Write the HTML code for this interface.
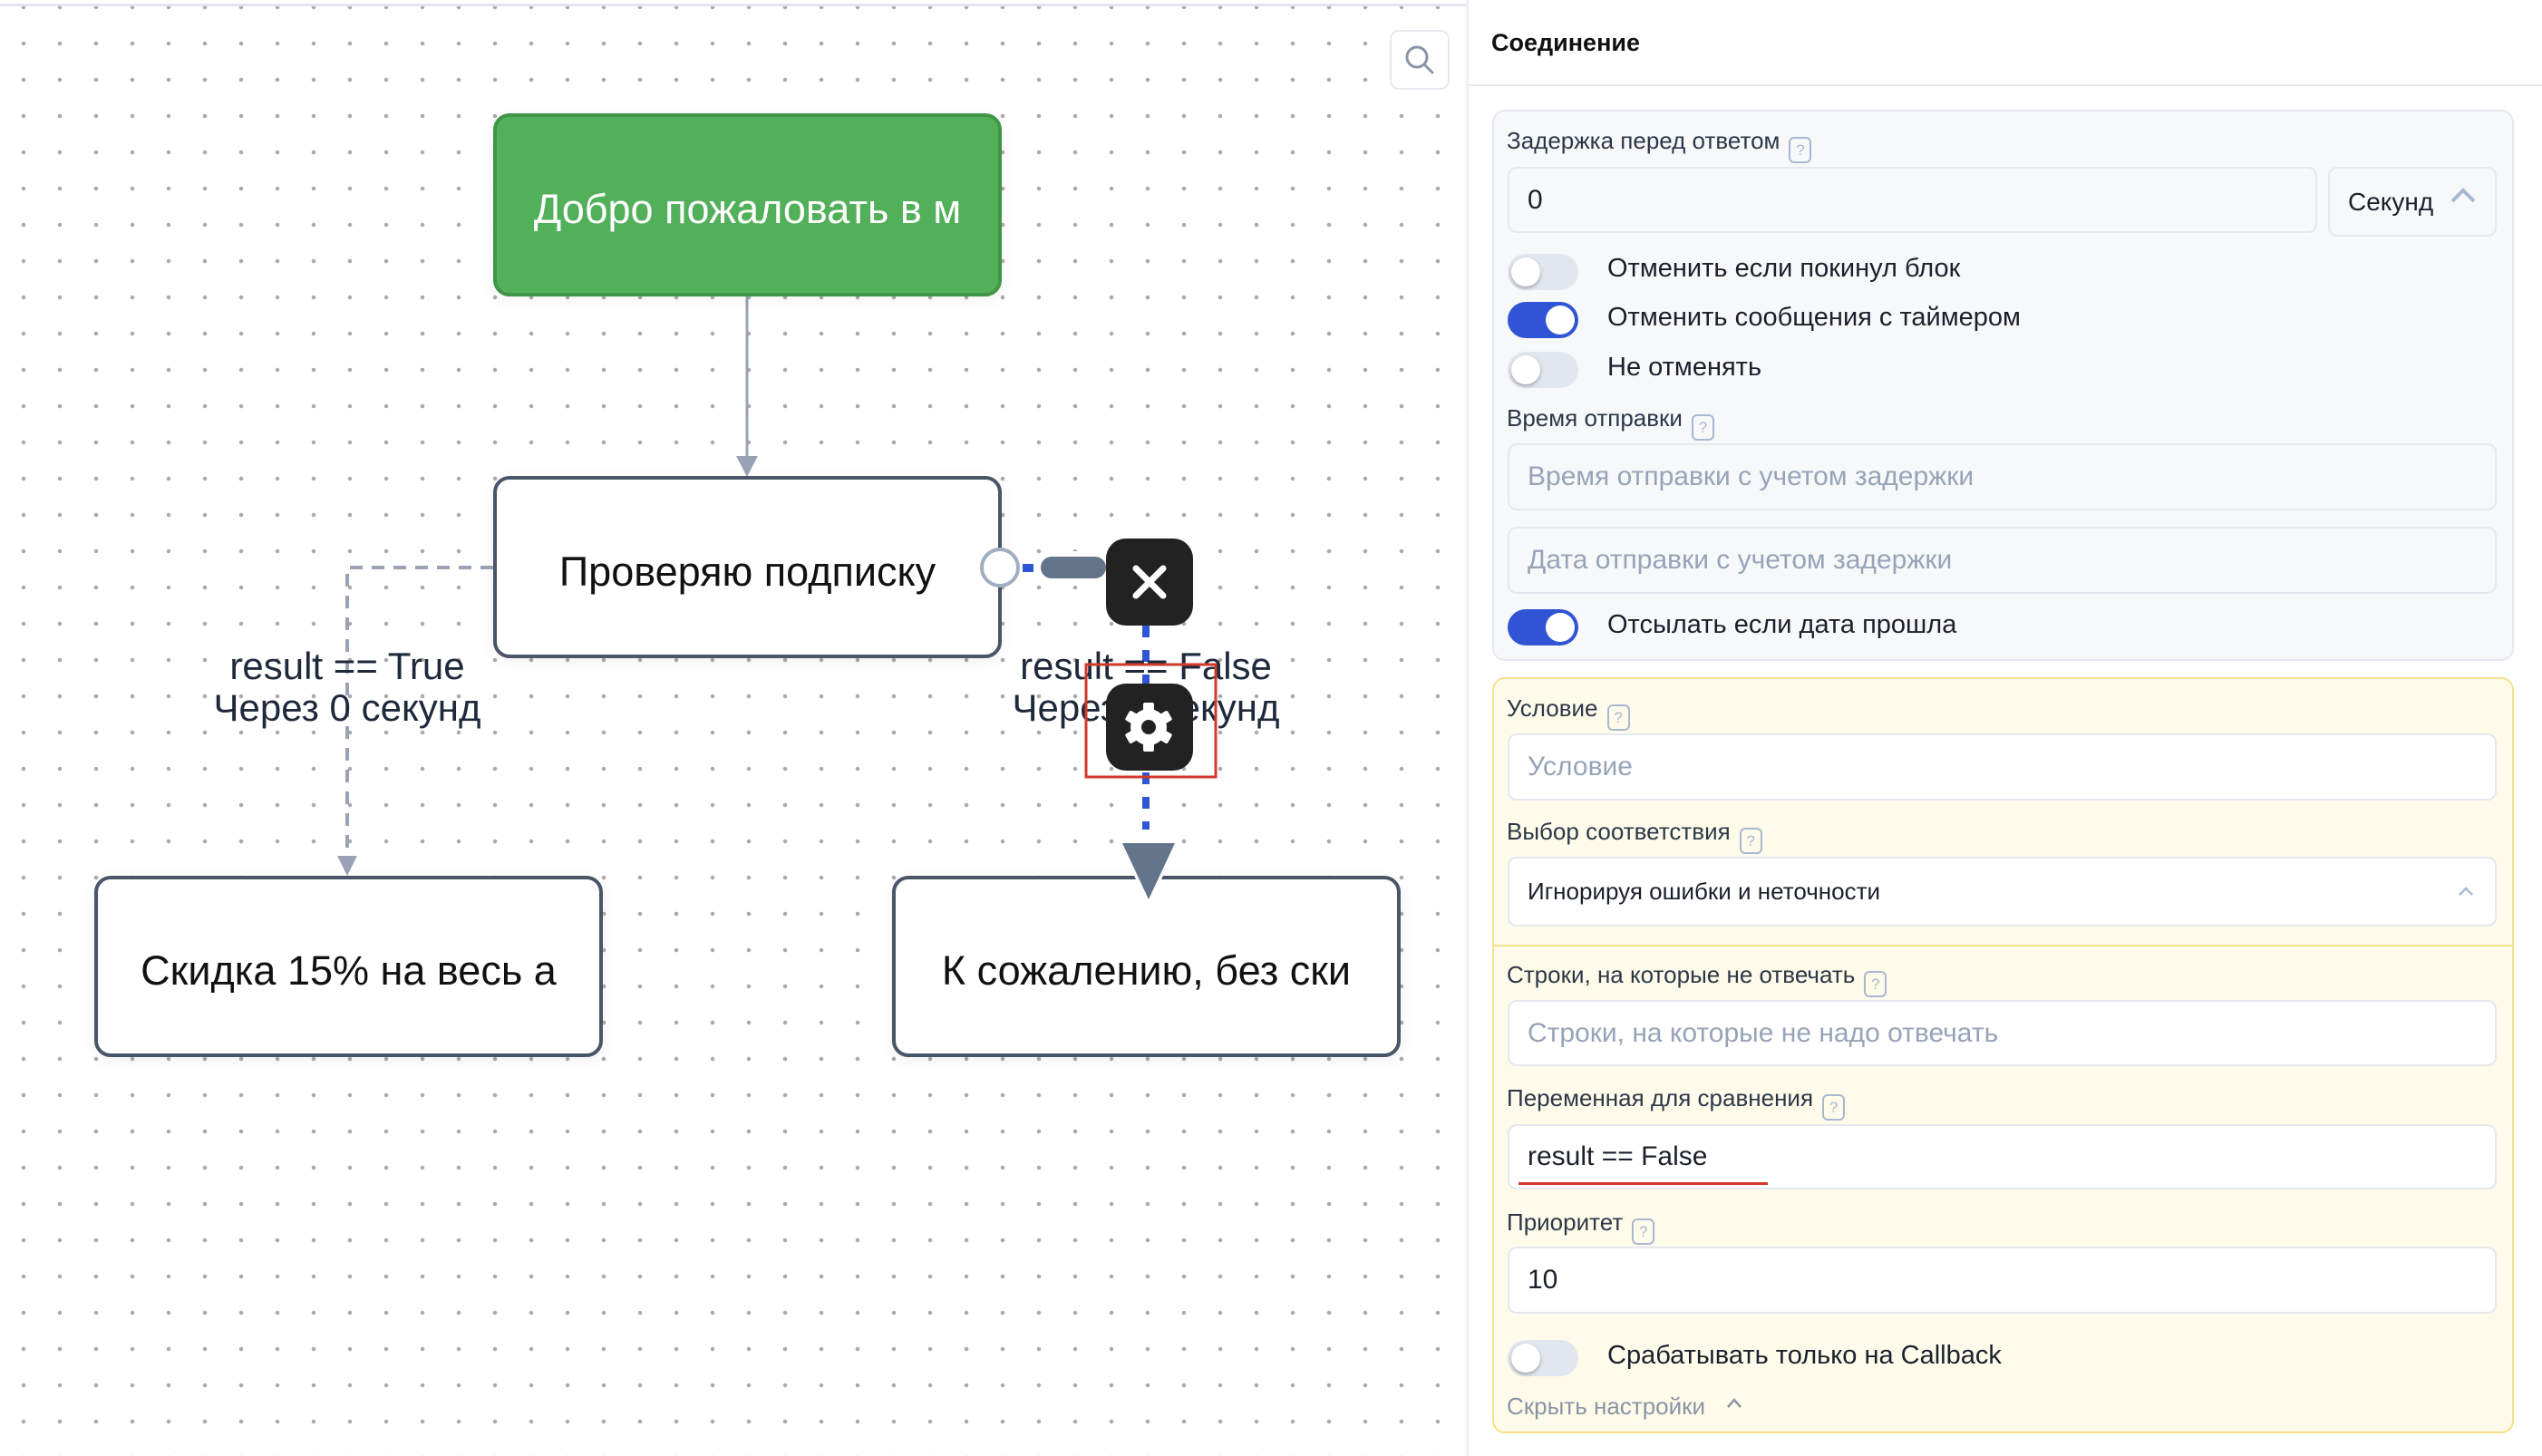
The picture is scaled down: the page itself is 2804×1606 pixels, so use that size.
<!DOCTYPE html>
<html><head><meta charset="utf-8"><style>
*{box-sizing:border-box;margin:0;padding:0}
body{width:2804px;height:1606px;position:relative;overflow:hidden;background:#fff;font-family:"Liberation Sans","DejaVu Sans",sans-serif;color:#1a202c}
.abs{position:absolute}
#canvas{left:0;top:0;width:1617px;height:1606px;background-color:#fff;background-image:radial-gradient(circle,#aaa 0,#aaa 2px,transparent 2.5px);background-size:40px 40px;background-position:6px -12px}
.node{position:absolute;border:4px solid #4a5568;border-radius:18px;background:#fff;display:flex;align-items:center;justify-content:center;font-size:45px;color:#111;white-space:nowrap;overflow:hidden;box-shadow:0 4px 18px rgba(0,0,0,.06);padding-top:10px}
.lbl{position:absolute;font-size:42px;color:#1e293b;text-align:center;line-height:46px;white-space:nowrap}
.panel{left:1617px;top:0;width:1187px;height:1606px;background:#fff;border-left:3px solid #eef0f4}
.card{position:absolute;left:1646px;width:1127px;border-radius:14px}
.label{position:absolute;left:1662px;font-size:26px;color:#2d3748;white-space:nowrap}
.q{display:inline-block;width:25px;height:29px;border:2px solid #a9b8d0;border-radius:6px;font-size:17px;color:#a9b8d0;text-align:center;line-height:25px;vertical-align:-7px;margin-left:10px}
.inp{position:absolute;left:1663px;width:1091px;border:2px solid #e5e8ef;border-radius:10px;background:#f7f8fa;font-size:30px;display:flex;align-items:center;padding-left:20px;color:#1a202c}
.ph{color:#98a3b8}
.tg{position:absolute;left:1663px;width:78px;height:40px;border-radius:20px;background:#e2e6ee}
.tg::after{content:"";position:absolute;left:4px;top:4px;width:32px;height:32px;border-radius:50%;background:#fff;box-shadow:0 2px 4px rgba(0,0,0,.3)}
.tg.on{background:#2f55d4}
.tg.on::after{left:42px;box-shadow:none}
.tt{position:absolute;left:1773px;font-size:29px;color:#1a202c;white-space:nowrap}
</style></head><body>
<div id="canvas" class="abs"></div>
<div class="abs" style="left:0;top:4px;width:1617px;height:3px;background:#e3e6ef"></div>

<div class="abs" style="left:1533px;top:33px;width:66px;height:66px;border:2px solid #e6e9ef;border-radius:10px;background:#fff"></div>
<svg class="abs" style="left:1548px;top:48px" width="36" height="36"><circle cx="15" cy="15" r="11" fill="none" stroke="#8a94a6" stroke-width="3"/><line x1="23" y1="23" x2="32" y2="32" stroke="#8a94a6" stroke-width="3" stroke-linecap="round"/></svg>

<svg class="abs" style="left:0;top:0" width="1617" height="1606">
<line x1="824" y1="327" x2="824" y2="508" stroke="#9aa3b5" stroke-width="3"/>
<polygon points="812,503 836,503 824,526" fill="#9aa3b5"/>
<polyline points="544,626 383,626 383,946" fill="none" stroke="#9aa3b5" stroke-width="4" stroke-dasharray="14,10"/>
<polygon points="372,944 394,944 383,966" fill="#9aa3b5"/>
<line x1="1264" y1="690" x2="1264" y2="915" stroke="#2f55d4" stroke-width="8" stroke-dasharray="13,14"/>
</svg>

<div class="node" style="left:544px;top:125px;width:561px;height:202px;background:#52b05a;border:4px solid #3f9646;color:#fff">Добро пожаловать в м</div>
<div class="node" style="left:544px;top:525px;width:561px;height:201px">Проверяю подписку</div>
<div class="node" style="left:104px;top:966px;width:561px;height:200px">Скидка 15% на весь а</div>
<div class="node" style="left:984px;top:966px;width:561px;height:200px">К сожалению, без ски</div>

<div class="lbl" style="left:183px;top:712px;width:400px">result == True<br>Через 0 секунд</div>
<div class="lbl" style="left:1064px;top:712px;width:400px">result == False<br>Через 0 секунд</div>

<svg class="abs" style="left:1080px;top:560px" width="300" height="450">
<circle cx="23" cy="66" r="20" fill="#fff" stroke="#a0aec0" stroke-width="4"/>
<rect x="48" y="62" width="12" height="9" fill="#2f55d4"/>
<rect x="62" y="48" width="84" height="38" rx="19" fill="#fff"/>
<rect x="68" y="54" width="72" height="24" rx="12" fill="#64748b"/>
<rect x="140" y="34" width="96" height="96" rx="22" fill="#222"/>
<line x1="173" y1="67" x2="203" y2="97" stroke="#fff" stroke-width="7" stroke-linecap="round"/>
<line x1="203" y1="67" x2="173" y2="97" stroke="#fff" stroke-width="7" stroke-linecap="round"/>
<rect x="140" y="194" width="96" height="96" rx="22" fill="#222"/>
<g transform="translate(187,242)" fill="#fff">
<circle r="20"/>
<rect x="-6" y="-27" width="12" height="54" rx="2"/>
<rect x="-6" y="-27" width="12" height="54" rx="2" transform="rotate(60)"/>
<rect x="-6" y="-27" width="12" height="54" rx="2" transform="rotate(120)"/>
<circle r="8" fill="#222"/>
</g>
<rect x="118" y="173" width="143" height="124" fill="none" stroke="#d03a2a" stroke-width="3"/>
<polygon points="152,365 222,365 187,440" fill="#fff"/>
<polygon points="158,370 216,370 187,432" fill="#64748b"/>
</svg>

<div class="abs panel"></div>
<div class="abs" style="left:1645px;top:32px;font-size:27px;font-weight:bold;color:#111">Соединение</div>
<div class="abs" style="left:1620px;top:93px;width:1184px;height:2px;background:#e5e8ef"></div>

<div class="card" style="top:121px;height:608px;background:#f7f8fa;border:2px solid #e5e8ef"></div>
<div class="label" style="top:140px">Задержка перед ответом<span class="q">?</span></div>
<div class="inp" style="top:184px;height:73px;width:893px">0</div>
<div class="inp" style="left:2568px;top:184px;height:77px;width:186px;font-size:28px">Секунд</div>
<svg class="abs" style="left:2702px;top:204px" width="30" height="22"><polyline points="3,18 15,6 27,18" fill="none" stroke="#a9b8d0" stroke-width="4"/></svg>
<div class="tg" style="top:280px"></div><div class="tt" style="top:280px">Отменить если покинул блок</div>
<div class="tg on" style="top:333px"></div><div class="tt" style="top:334px">Отменить сообщения с таймером</div>
<div class="tg" style="top:388px"></div><div class="tt" style="top:389px">Не отменять</div>
<div class="label" style="top:446px">Время отправки<span class="q">?</span></div>
<div class="inp ph" style="top:489px;height:74px">Время отправки с учетом задержки</div>
<div class="inp ph" style="top:581px;height:74px">Дата отправки с учетом задержки</div>
<div class="tg on" style="top:672px"></div><div class="tt" style="top:673px">Отсылать если дата прошла</div>

<div class="card" style="top:747px;height:834px;background:#fefbea;border:2px solid #f5e08c"></div>
<div class="abs" style="left:1648px;top:1042px;width:1123px;height:2px;background:#f5e08c"></div>
<div class="label" style="top:766px">Условие<span class="q">?</span></div>
<div class="inp ph" style="top:809px;height:74px;background:#fff">Условие</div>
<div class="label" style="top:902px">Выбор соответствия<span class="q">?</span></div>
<div class="inp" style="top:945px;height:77px;background:#fff;font-size:26px">Игнорируя ошибки и неточности</div>
<svg class="abs" style="left:2710px;top:976px" width="20" height="14"><polyline points="3,11 10,4 17,11" fill="none" stroke="#a9b8d0" stroke-width="2.5"/></svg>
<div class="label" style="top:1060px">Строки, на которые не отвечать<span class="q">?</span></div>
<div class="inp ph" style="top:1103px;height:73px;background:#fff">Строки, на которые не надо отвечать</div>
<div class="label" style="top:1196px">Переменная для сравнения<span class="q">?</span></div>
<div class="inp" style="top:1240px;height:72px;background:#fff">result == False</div>
<div class="abs" style="left:1675px;top:1304px;width:275px;height:3px;background:#d03a2a"></div>
<div class="label" style="top:1333px">Приоритет<span class="q">?</span></div>
<div class="inp" style="top:1375px;height:74px;background:#fff">10</div>
<div class="tg" style="top:1478px"></div><div class="tt" style="top:1479px">Срабатывать только на Callback</div>
<div class="abs" style="left:1662px;top:1536px;font-size:26px;color:#8a94a6">Скрыть настройки</div>
<svg class="abs" style="left:1903px;top:1540px" width="20" height="16"><polyline points="3,12 10,4 17,12" fill="none" stroke="#8a94a6" stroke-width="2.5"/></svg>
</body></html>
